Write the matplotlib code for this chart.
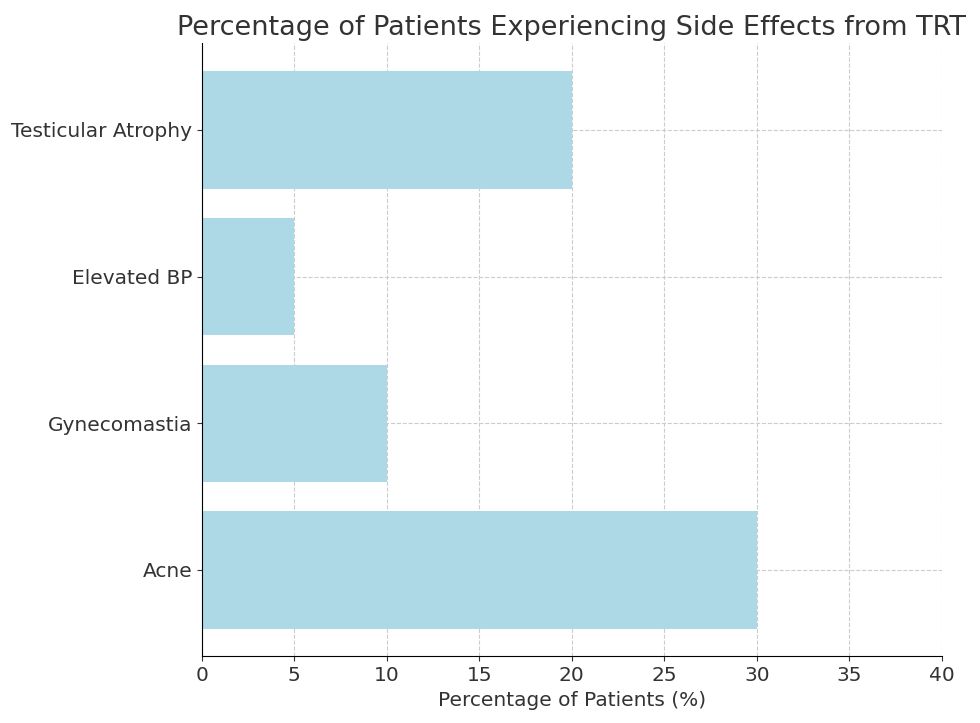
import matplotlib.pyplot as plt

side_effects = ['Acne', 'Gynecomastia', 'Elevated BP', 'Testicular Atrophy']
percentages = [30, 10, 5, 20]

fig, ax = plt.subplots(figsize=(9.8, 7.23), dpi=100)
ax.barh(side_effects, percentages, color='lightblue', height=0.8)

ax.set_xlim(0, 40)
ax.set_title('Percentage of Patients Experiencing Side Effects from TRT',
             fontsize=19.5, color='#333333')
ax.set_xlabel('Percentage of Patients (%)', fontsize=14.5, color='#333333')
ax.tick_params(labelsize=14.5, colors='#333333')
ax.grid(True, linestyle='--', color='#cccccc', linewidth=0.8)
ax.set_axisbelow(True)
ax.spines['top'].set_visible(False)
ax.spines['right'].set_visible(False)

plt.subplots_adjust(left=0.206, right=0.961, top=0.94, bottom=0.092)
plt.savefig('out.png')
